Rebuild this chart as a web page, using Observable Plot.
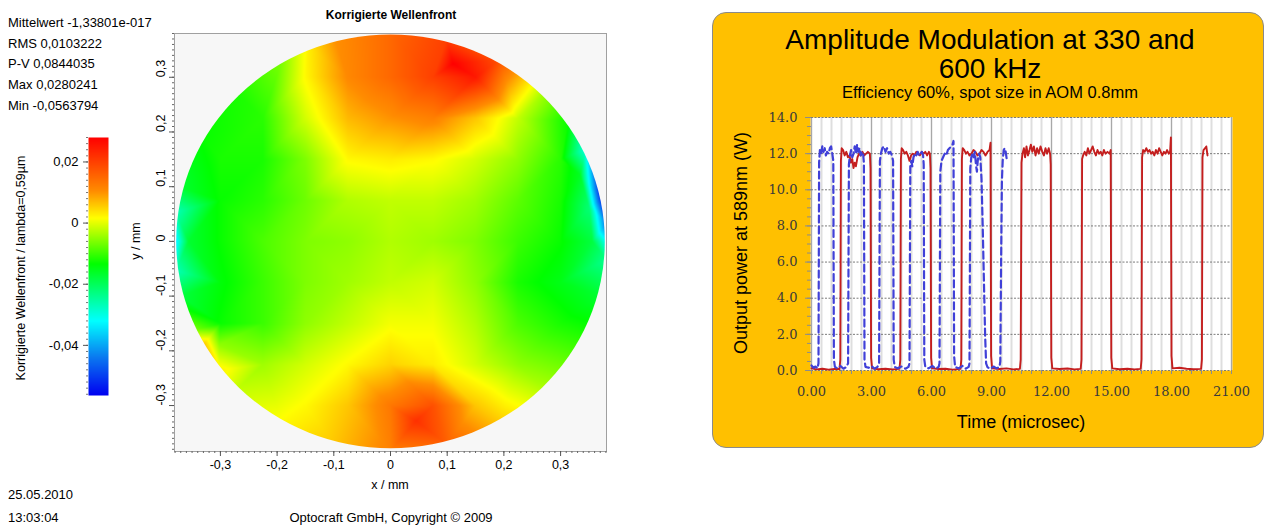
<!DOCTYPE html>
<html><head><meta charset="utf-8">
<script src="https://cdn.jsdelivr.net/npm/d3@7"></script>
<script src="https://cdn.jsdelivr.net/npm/@observablehq/plot@0.6"></script>
<style>
html,body{margin:0;padding:0;background:#fff;}
body{width:1267px;height:525px;overflow:hidden;position:relative;font-family:"Liberation Sans",Arial,sans-serif;color:#000;}
.abs{position:absolute;white-space:nowrap;line-height:1;}
.rot{transform:translate(-50%,-50%) rotate(-90deg);}
#box{position:absolute;left:712px;top:12px;width:550px;height:434px;background:#ffc000;border:1.5px solid #8a8a8a;border-radius:14px;}
svg{position:absolute;}
</style></head><body>
<script>
// ---------------- DATA ----------------
const statLines = ["Mittelwert -1,33801e-017", "RMS 0,0103222", "P-V 0,0844035", "Max 0,0280241", "Min -0,0563794"];
const wfTitle = "Korrigierte Wellenfront";
const wfColorLabel = "Korrigierte Wellenfront / lambda=0,59µm";
const footDate = "25.05.2010", footTime = "13:03:04", footCopy = "Optocraft GmbH, Copyright © 2009";

// wavefront samples (mm, value in lambda)
const wfGridX = [-0.3, -0.225, -0.15, -0.075, 0, 0.075, 0.15, 0.225, 0.3];
const wfGridY = [0.3, 0.225, 0.15, 0.075, 0, -0.075, -0.15, -0.225, -0.3];
const wfGridV = [
  [null,   null,   0.002,  0.011,  0.015,  0.020,  0.025,  null,   null],
  [null,  -0.011, -0.001,  0.007,  0.010,  0.012,  0.006, -0.002,  null],
  [-0.012,-0.012, -0.006,  0.002,  0.003,  0.002, -0.001, -0.005, -0.011],
  [-0.013,-0.011, -0.007, -0.003, -0.002, -0.002, -0.004, -0.008, -0.012],
  [-0.013,-0.009, -0.006, -0.005, -0.003, -0.004, -0.006, -0.010, -0.013],
  [-0.014,-0.010, -0.006, -0.004, -0.002, -0.001, -0.005, -0.012, -0.015],
  [-0.013,-0.010, -0.005, -0.002,  0.001,  0.001, -0.003, -0.009, -0.012],
  [null,  -0.004, -0.001,  0.002,  0.005,  0.003, -0.001, -0.005,  null],
  [null,   null,   0.002,  0.006,  0.013,  0.018,  0.006,  null,   null]
];
// values on the pupil edge (angle in degrees)
const wfEdgeAngle = [0, 5, 12, 20, 26, 35, 45, 60, 75, 90, 105, 112, 120, 135, 150, 165, 172, 180, 188, 195, 205, 210, 218, 225, 240, 255, 270, 285, 300, 315, 330, 345, 355];
const wfEdgeV = [-0.033, -0.046, -0.056, -0.045, -0.030, -0.013, -0.004, 0.018, 0.020, 0.015, 0.010, 0.003, -0.006, -0.012, -0.013, -0.017, -0.027, -0.037, -0.027, -0.018, -0.006, 0.008, 0.003, -0.002, 0.002, 0.006, 0.012, 0.016, 0.006, -0.003, -0.010, -0.017, -0.024];
// values just inside the edge
const wfInnerAngle = [0, 10, 20, 180, 212];
const wfInnerV = [-0.018, -0.022, -0.016, -0.017, -0.005];
// local extremes
const wfPeakX = [0.11, 0.045];
const wfPeakY = [0.325, -0.328];
const wfPeakV = [0.028, 0.022];

// colour bar
const cbStops = [-0.0564, -0.044, -0.032, -0.0134, 0.0016, 0.0105, 0.028];
const cbColors = ["#0000f0", "#0a78f0", "#00ffff", "#00ff00", "#ffff00", "#ff8c00", "#ff0000"];
const cbTicks = [-0.04, -0.02, 0, 0.02];
const wfTicks = [-0.3, -0.2, -0.1, 0, 0.1, 0.2, 0.3];

// amplitude modulation
const ampTitle1 = "Amplitude Modulation at 330 and", ampTitle2 = "600 kHz";
const ampSub = "Efficiency 60%, spot size in AOM 0.8mm";
const ampXLabel = "Time (microsec)", ampYLabel = "Output power at 589nm (W)";
const ampXTicks = [0, 3, 6, 9, 12, 15, 18, 21];
const ampYTicks = [0, 2, 4, 6, 8, 10, 12, 14];
const redTrace = [
[0.00,0.12],[0.25,0.06],[0.55,0.10],[0.85,0.05],[1.15,0.09],[1.40,0.08],[1.44,0.6],[1.47,11.6],[1.51,12.3],[1.58,12.2],[1.66,11.9],[1.74,12.1],[1.82,11.8],[1.90,11.9],[1.97,11.5],[2.04,11.7],[2.10,11.2],[2.16,11.5],[2.22,11.3],[2.30,11.8],[2.38,12.0],[2.46,11.9],[2.55,12.1],[2.64,11.9],[2.73,12.0],[2.82,12.1],[2.92,12.0],[2.95,11.2],[2.98,0.7],[3.03,0.12],[3.35,0.07],[3.70,0.10],[4.05,0.06],[4.40,0.09],
[4.44,0.6],[4.47,11.7],[4.51,12.3],[4.58,12.2],[4.66,12.0],[4.74,12.1],[4.82,11.9],[4.90,11.6],[4.98,11.9],[5.06,12.0],[5.15,11.9],[5.24,12.1],[5.33,12.0],[5.42,11.9],[5.51,12.1],[5.60,12.0],[5.69,12.1],[5.78,11.9],[5.87,12.1],[5.92,12.0],[5.95,11.2],[5.98,0.7],[6.03,0.12],[6.35,0.08],[6.70,0.10],[7.05,0.05],[7.45,0.09],
[7.49,0.6],[7.52,11.7],[7.56,12.3],[7.64,12.2],[7.72,12.0],[7.80,12.1],[7.90,11.9],[8.00,12.0],[8.10,12.2],[8.20,12.1],[8.30,11.9],[8.40,12.0],[8.50,12.2],[8.60,12.1],[8.70,11.9],[8.80,12.1],[8.90,12.2],[8.95,12.6],[8.98,0.8],[9.03,0.12],[9.40,0.08],[9.75,0.12],[10.10,0.06],[10.42,0.09],
[10.46,0.6],[10.50,11.5],[10.55,12.0],[10.62,12.3],[10.68,11.8],[10.75,12.4],[10.82,11.9],[10.90,12.2],[10.97,12.5],[11.04,12.1],[11.12,12.4],[11.20,11.9],[11.28,12.3],[11.36,12.0],[11.45,12.4],[11.54,12.1],[11.62,11.9],[11.70,12.3],[11.78,12.0],[11.86,12.3],[11.93,12.0],[11.96,11.4],[11.99,0.7],[12.04,0.12],[12.40,0.08],[12.80,0.11],[13.15,0.06],[13.46,0.09],
[13.50,0.6],[13.53,11.7],[13.58,11.9],[13.66,12.1],[13.74,11.9],[13.82,12.3],[13.90,12.0],[13.98,12.2],[14.06,12.4],[14.14,12.1],[14.22,11.9],[14.30,12.2],[14.38,12.0],[14.46,12.1],[14.54,11.9],[14.62,12.2],[14.70,12.0],[14.80,12.1],[14.90,12.0],[14.96,12.2],[14.99,0.7],[15.04,0.12],[15.40,0.07],[15.80,0.10],[16.15,0.06],[16.46,0.09],
[16.50,0.6],[16.53,11.8],[16.58,12.2],[16.66,12.1],[16.74,12.3],[16.82,12.1],[16.90,12.2],[16.98,12.0],[17.06,12.1],[17.14,11.9],[17.22,12.2],[17.30,12.0],[17.38,12.3],[17.46,12.1],[17.54,11.9],[17.62,12.1],[17.70,12.0],[17.78,12.2],[17.86,12.0],[17.93,12.1],[17.97,12.9],[18.00,0.8],[18.05,0.12],[18.40,0.15],[18.75,0.10],[19.10,0.07],[19.48,0.09],
[19.52,0.6],[19.55,11.8],[19.60,12.2],[19.68,12.3],[19.74,12.4],[19.80,11.9]
];
const blueTrace = [
[0.00,0.28],[0.10,0.15],[0.20,0.22],[0.30,0.12],[0.35,0.4],[0.38,11.5],[0.42,12.2],[0.48,12.0],[0.54,12.4],[0.60,12.1],[0.66,12.3],[0.72,11.9],[0.78,12.1],[0.85,12.0],[0.92,12.3],[0.98,12.4],[1.04,12.0],[1.09,11.6],[1.12,0.6],[1.17,0.2],[1.30,0.12],[1.45,0.25],[1.60,0.10],[1.75,0.2],
[1.83,0.4],[1.87,11.4],[1.92,11.9],[1.98,12.2],[2.04,11.8],[2.10,12.0],[2.16,12.4],[2.22,12.0],[2.28,12.5],[2.34,12.1],[2.40,12.3],[2.46,11.9],[2.52,12.1],[2.58,12.0],[2.62,11.5],[2.65,0.6],[2.70,0.2],[2.85,0.15],[3.00,0.25],[3.15,0.10],[3.30,0.2],
[3.38,0.4],[3.42,11.6],[3.47,12.0],[3.54,12.3],[3.62,12.4],[3.70,12.1],[3.78,12.3],[3.86,12.0],[3.94,12.1],[4.02,11.9],[4.08,11.6],[4.11,0.6],[4.16,0.2],[4.30,0.12],[4.50,0.22],[4.70,0.10],[4.85,0.2],
[4.90,0.4],[4.94,11.3],[4.99,11.6],[5.04,11.3],[5.10,11.8],[5.17,12.0],[5.24,11.9],[5.31,12.1],[5.38,11.9],[5.45,12.0],[5.52,12.1],[5.58,11.9],[5.61,11.4],[5.64,0.6],[5.69,0.2],[5.85,0.12],[6.05,0.25],[6.20,0.10],[6.36,0.2],
[6.40,0.4],[6.44,11.0],[6.50,11.6],[6.58,11.8],[6.66,12.0],[6.74,11.9],[6.82,12.2],[6.90,12.3],[6.98,12.4],[7.05,12.5],[7.10,12.7],[7.13,0.8],[7.18,0.2],[7.35,0.12],[7.55,0.25],[7.72,0.10],[7.86,0.2],
[7.90,0.4],[7.94,11.2],[7.99,11.8],[8.05,12.0],[8.11,11.8],[8.17,12.1],[8.22,11.4],[8.27,11.0],[8.32,11.7],[8.38,12.0],[8.44,11.8],[8.50,10.6],[8.56,8.0],[8.62,5.0],[8.68,2.0],[8.73,0.4],[8.80,0.18],[8.95,0.10],[9.10,0.22],[9.25,0.12],[9.40,0.2],
[9.44,0.5],[9.48,6.0],[9.52,10.5],[9.56,11.6],[9.61,12.2],[9.66,12.3],[9.71,12.1],[9.76,11.7]
];

// ---------------- BUILD ----------------
const body = document.body;
function addText(txt, css, cls) {
  const d = document.createElement("div");
  d.className = "abs" + (cls ? " " + cls : "");
  d.textContent = txt;
  Object.assign(d.style, css);
  body.appendChild(d);
  return d;
}
const fmtC = d => (Math.round(d * 1000) / 1000).toString().replace(".", ",");
const colorOpts = {type: "linear", domain: cbStops, range: cbColors, clamp: true};

// stats text
const statTops = [16, 37, 57, 78, 99];
statLines.forEach((s, i) => addText(s, {left: "8px", top: statTops[i] + "px", fontSize: "13px"}));

// wavefront points
const wfPoints = [];
wfGridY.forEach((y, i) => wfGridX.forEach((x, j) => {
  const v = wfGridV[i][j];
  if (v != null) wfPoints.push({x, y, v});
}));
const R_EDGE = 0.383, R_IN = 0.356;
wfEdgeAngle.forEach((a, i) => wfPoints.push({x: R_EDGE * Math.cos(a * Math.PI / 180), y: R_EDGE * Math.sin(a * Math.PI / 180), v: wfEdgeV[i]}));
wfInnerAngle.forEach((a, i) => wfPoints.push({x: R_IN * Math.cos(a * Math.PI / 180), y: R_IN * Math.sin(a * Math.PI / 180), v: wfInnerV[i]}));
wfPeakX.forEach((x, i) => wfPoints.push({x, y: wfPeakY[i], v: wfPeakV[i]}));

const XD = [-0.381, 0.381], YD = [-0.384, 0.38];
const wfMinor = d3.range(-38, 39).map(i => i / 100);
const wf = Plot.plot({
  width: 530, height: 500, marginLeft: 74, marginRight: 24, marginTop: 33, marginBottom: 49,
  x: {domain: XD, axis: null},
  y: {domain: YD, axis: null},
  color: colorOpts,
  style: {fontFamily: "Liberation Sans, Arial, sans-serif", fontSize: "12.5px", background: "transparent", color: "#000"},
  marks: [
    Plot.frame({fill: "#f7f7f7"}),
    Plot.raster(wfPoints, {x: "x", y: "y", fill: "v", interpolate: "barycentric", x1: XD[0], x2: XD[1], y1: YD[0], y2: YD[1]}),
    Plot.frame({stroke: "#a0a0a0"}),
    Plot.axisX({ticks: wfMinor, tickSize: 2, tickFormat: () => "", label: null, stroke: "#666"}),
    Plot.axisX({ticks: wfTicks, tickSize: 5, tickPadding: 4, tickFormat: fmtC, label: null, stroke: "#555", fontSize: 12.5}),
    Plot.axisY({ticks: wfMinor, tickSize: 2, tickFormat: () => "", label: null, stroke: "#666"}),
    Plot.axisY({ticks: wfTicks, tickSize: 5, tickFormat: () => "", label: null, stroke: "#555"}),
    Plot.text(wfTicks, {y: d => d, text: fmtC, frameAnchor: "left", dx: -14, rotate: -90, fontSize: 12.5})
  ]
});
Object.assign(wf.style, {left: "100px", top: "0px"});
body.appendChild(wf);
// clip raster to the circular pupil
{
  const xs = wf.scale("x"), ys = wf.scale("y");
  const cx = xs.apply(0), cy = ys.apply(0);
  const rx = xs.apply(0.378) - cx, ry = cy - ys.apply(0.378);
  const ns = "http://www.w3.org/2000/svg";
  const defs = document.createElementNS(ns, "defs");
  const cp = document.createElementNS(ns, "clipPath");
  cp.setAttribute("id", "pupilClip");
  const el = document.createElementNS(ns, "ellipse");
  el.setAttribute("cx", cx); el.setAttribute("cy", cy); el.setAttribute("rx", rx); el.setAttribute("ry", ry);
  cp.appendChild(el); defs.appendChild(cp); wf.insertBefore(defs, wf.firstChild);
  const rg = wf.querySelector('g[aria-label="raster"]');
  if (rg) rg.setAttribute("clip-path", "url(#pupilClip)");
}

addText(wfTitle, {left: "391px", top: "9px", fontSize: "12px", fontWeight: "bold", transform: "translateX(-50%)"});
addText("x / mm", {left: "390px", top: "479px", fontSize: "12.5px", transform: "translateX(-50%)"});
addText("y / mm", {left: "136px", top: "241px", fontSize: "12.5px"}, "rot");

// colour bar
const cbMinor = d3.range(-28, 15).map(i => i * 0.002);
const cb = Plot.plot({
  width: 80, height: 300, marginLeft: 48, marginRight: 12, marginTop: 17, marginBottom: 25,
  x: {domain: [0, 1], axis: null},
  y: {domain: [cbStops[0], cbStops[cbStops.length - 1]], axis: null},
  color: colorOpts,
  style: {fontFamily: "Liberation Sans, Arial, sans-serif", fontSize: "13px", background: "transparent", color: "#000"},
  marks: [
    Plot.raster({fill: (x, y) => y, x1: 0, x2: 1, y1: cbStops[0], y2: cbStops[cbStops.length - 1]}),
    Plot.axisY({ticks: cbMinor, tickSize: 2, tickFormat: () => "", label: null, stroke: "#777"}),
    Plot.axisY({ticks: cbTicks, tickSize: 5, tickPadding: 5, tickFormat: fmtC, label: null, stroke: "#555", fontSize: 13})
  ]
});
Object.assign(cb.style, {left: "40px", top: "120px"});
body.appendChild(cb);
addText(wfColorLabel, {left: "21px", top: "268px", fontSize: "12.5px"}, "rot");

// footers
addText(footDate, {left: "8px", top: "488px", fontSize: "13px"});
addText(footTime, {left: "8px", top: "511px", fontSize: "13px"});
addText(footCopy, {left: "391px", top: "511px", fontSize: "13px", transform: "translateX(-50%)"});

// ---------- right panel ----------
const box = document.createElement("div"); box.id = "box"; body.appendChild(box);
addText(ampTitle1, {left: "990px", top: "26px", fontSize: "28px", transform: "translateX(-50%)"});
addText(ampTitle2, {left: "990px", top: "55px", fontSize: "28px", transform: "translateX(-50%)"});
addText(ampSub, {left: "990px", top: "84px", fontSize: "16.5px", transform: "translateX(-50%)"});

const ampXMinor = d3.range(0, 43).map(i => i * 0.5);
const ampYMinor = d3.range(0, 29).map(i => i * 0.5);
const redData = redTrace.map(([t, w]) => ({t, w}));
const blueData = blueTrace.map(([t, w]) => ({t, w}));
const amp = Plot.plot({
  width: 550, height: 340, marginLeft: 99, marginRight: 31, marginTop: 17, marginBottom: 70,
  x: {domain: [0, 21], axis: null},
  y: {domain: [0, 14], axis: null},
  style: {fontFamily: "DejaVu Serif, serif", fontSize: "13px", background: "transparent", color: "#3a3a3a"},
  marks: [
    Plot.frame({fill: "#ffffff"}),
    Plot.ruleX(ampXMinor, {x: d => d, stroke: "#dedede", strokeWidth: 2}),
    Plot.ruleX(ampXTicks, {x: d => d, stroke: "#a8a8a8", strokeWidth: 1}),
    Plot.ruleY(ampYTicks, {y: d => d, stroke: "#7a7a7a", strokeWidth: 1, strokeDasharray: "2,1.5"}),
    Plot.line(redData, {x: "t", y: "w", stroke: "#c41e1e", strokeWidth: 1.9}),
    Plot.line(blueData, {x: "t", y: "w", stroke: "#4040d8", strokeWidth: 2.2, strokeDasharray: "7,4"}),
    Plot.axisY({ticks: ampYMinor, tickSize: 4, tickFormat: () => "", label: null, stroke: "#8c8c8c"}),
    Plot.axisY({ticks: ampYTicks, tickSize: 6, tickPadding: 8, tickFormat: d3.format(".1f"), label: null, stroke: "#8c8c8c", fontSize: 13}),
    Plot.axisX({ticks: ampXMinor, tickSize: 4, tickFormat: () => "", label: null, stroke: "#8c8c8c"}),
    Plot.axisX({ticks: ampXTicks, tickSize: 4, tickPadding: 12, tickFormat: d3.format(".2f"), label: null, stroke: "#8c8c8c", fontSize: 13})
  ]
});
Object.assign(amp.style, {left: "712px", top: "100px"});
body.appendChild(amp);
addText(ampXLabel, {left: "1021px", top: "413px", fontSize: "18px", transform: "translateX(-50%)"});
addText(ampYLabel, {left: "741px", top: "243px", fontSize: "18px"}, "rot");
</script>
</body></html>
